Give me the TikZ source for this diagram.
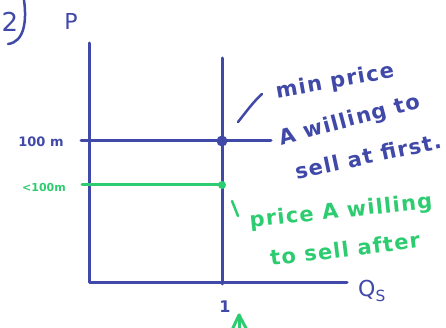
\documentclass[tikz,border=0pt]{standalone}
\usepackage{fontspec}
\setmainfont{DejaVu Sans}
\begin{document}
\begin{tikzpicture}[x=1pt,y=-1pt,
  ink/.style={draw=inkblue,line width=3pt,line cap=round,line join=round},
  gink/.style={draw=inkgreen,line width=3pt,line cap=round,line join=round},
  btxt/.style={text=inkblue,inner sep=0pt},
  gtxt/.style={text=inkgreen,inner sep=0pt},
  hand/.style={font=\bfseries\fontsize{21}{21}\selectfont\addfontfeature{LetterSpace=6}}]
\definecolor{inkblue}{RGB}{64,72,168}
\definecolor{inkgreen}{RGB}{46,204,113}
\useasboundingbox (0,0) rectangle (446,328);
% axes
\coordinate (ytop) at (89,43);
\coordinate (org) at (89,282);
\coordinate (xend) at (347,282);
\draw[ink] (ytop) -- (org) -- (xend);
% vertical line at Q=1
\coordinate (vtop) at (222,58);
\coordinate (vbot) at (222,284);
\draw[ink] (vtop) -- (vbot);
% 100m line
\coordinate (h1l) at (81,141);
\coordinate (h1r) at (271,141);
\draw[ink] (h1l) -- (h1r);
\node[circle,fill=inkblue,inner sep=0pt,minimum size=11pt] (dot1) at (222,141) {};
% <100m line
\coordinate (h2l) at (82,185);
\node[circle,fill=inkgreen,inner sep=0pt,minimum size=8pt] (dot2) at (222,185) {};
\draw[gink] (h2l) -- (dot2.center);
% labels
\node[btxt,font=\fontsize{26}{26}\selectfont] (two) at (10,22) {2};
\draw[ink,line width=2.5pt] (24,0) .. controls (27,22) and (24,42) .. (8,44);
\node[btxt,font=\fontsize{22}{22}\selectfont] (P) at (71,21) {P};
\node[btxt,font=\bfseries\fontsize{13}{13}\selectfont] (l100) at (41,142) {100 m};
\node[gtxt,font=\bfseries\fontsize{11}{11}\selectfont] (l100b) at (44,187) {<100m};
\node[btxt,font=\fontsize{22}{22}\selectfont] (Qs) at (372,291) {Q\textsubscript{S}};
\node[btxt,font=\bfseries\fontsize{16}{16}\selectfont] (one) at (225,307) {1};
\coordinate (ua) at (232,330);
\coordinate (ub) at (239,315);
\coordinate (uc) at (247,330);
\draw[gink] (ua) -- (ub) -- (uc);
\draw[gink] (ub) -- (239,330);
% blue annotation
\node[btxt,hand,rotate=10] (t1) at (335,82) {min price};
\node[btxt,hand,rotate=15] (t2) at (350,121) {A willing to};
\node[btxt,hand,rotate=12] (t3) at (368,156) {sell at first.};
\coordinate (p1a) at (238,122);
\coordinate (p1b) at (262,94);
\draw[ink,line width=2.5pt] (p1a) .. controls (246,112) and (254,101) .. (p1b);
% green annotation
\node[gtxt,hand,rotate=6] (t4) at (341,212) {price A willing};
\node[gtxt,hand,rotate=7] (t5) at (345,249) {to sell after};
\coordinate (p2a) at (232,201);
\coordinate (p2b) at (238,216);
\draw[gink,line width=2.5pt] (p2a) -- (p2b);
\end{tikzpicture}
\end{document}
